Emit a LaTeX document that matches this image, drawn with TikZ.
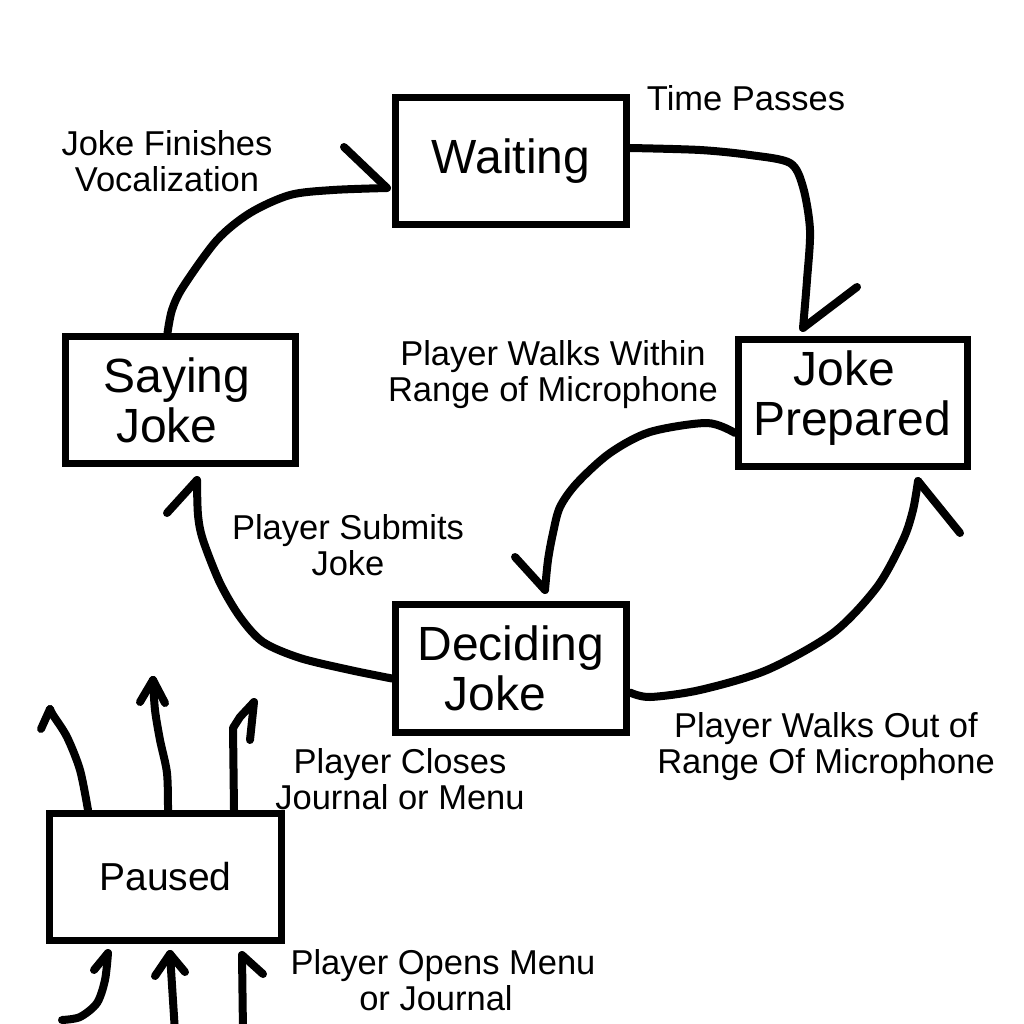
\documentclass[tikz,border=0pt]{standalone}
\usepackage{fontspec}
\setmainfont{Liberation Sans}
\usetikzlibrary{calc}
\begin{document}
\begin{tikzpicture}[x=1pt,y=-1pt,
 state/.style={draw,line width=7pt,inner sep=0pt,align=center,font=\fontsize{48}{50}\selectfont},
 lbl/.style={align=center,font=\fontsize{34.5}{36}\selectfont,inner sep=0pt},
 conn/.style={line width=8pt,line cap=round,line join=round},
]
\useasboundingbox[fill=white] (0,0) rectangle (1024,1024);

% states
\node[state,minimum width=231pt,minimum height=127pt] (waiting) at (511,161) {Waiting};
\node[state,minimum width=229pt,minimum height=127pt,text depth=20pt] (prepared) at (853,403) {\hspace*{-18pt}Joke\\\hspace*{-2pt}Prepared};
\node[state,minimum width=230pt,minimum height=127pt] (saying) at (180.5,400) {\hspace*{-7pt}Saying\\\hspace*{-27pt}Joke};
\node[state,minimum width=231pt,minimum height=128pt] (deciding) at (511,668.5) {Deciding\\\hspace*{-32pt}Joke};
\node[state,minimum width=232pt,minimum height=127pt,font=\fontsize{39}{40}\selectfont] (paused) at (165.5,877) {Paused};

% labels
\node[lbl] (lt) at (746,98) {Time Passes};
\node[lbl] (lf) at (167,161) {Joke Finishes\\Vocalization};
\node[lbl] (lw) at (553,375) {Player Walks Within\\Range of Microphone};
\node[lbl] (ls) at (348,545) {Player Submits\\Joke};
\node[lbl] (lo) at (826,747) {Player Walks Out of\\Range Of Microphone};
\node[lbl] (lc) at (400,779) {Player Closes\\Journal or Menu};
\node[lbl] (lp) at (443,980) {Player Opens Menu\\\hspace*{-14pt}or Journal};

% connection points
\coordinate (a1) at ($(waiting.east)+(0,-13)$);
\coordinate (b1) at ($(prepared.north)+(-50,-8)$);
\coordinate (a2) at ($(prepared.west)+(0,30)$);
\coordinate (b2) at ($(deciding.north)+(34,-11)$);
\coordinate (a3) at ($(deciding.east)+(0,24)$);
\coordinate (b3) at ($(prepared.south)+(65,11)$);
\coordinate (a4) at ($(deciding.west)+(0,10)$);
\coordinate (b4) at ($(saying.south)+(16.5,13)$);
\coordinate (a5) at ($(saying.north)+(-13,0)$);
\coordinate (b5) at ($(waiting.west)+(-5,27)$);

% Waiting -> Joke Prepared
\draw[conn] plot[smooth,tension=0.5] coordinates {(a1) (700,150) (750,155) (790,163) (803,187) (810,230) (807,280) (b1)};
\draw[conn] (b1) -- ++(54,-41);
% Joke Prepared -> Deciding Joke
\draw[conn] plot[smooth,tension=0.5] coordinates {(a2) (707,423) (650,432) (610,453) (577,483) (560,507) (553,533) (548,560) (b2)};
\draw[conn] (b2) -- ++(-30,-33);
% Deciding Joke -> Joke Prepared
\draw[conn] plot[smooth,tension=0.5] coordinates {(a3) (650,697) (700,690) (767,670) (833,633) (877,587) (903,540) (913,510) (b3)};
\draw[conn] (b3) -- ++(42,52);
% Deciding Joke -> Saying Joke
\draw[conn] plot[smooth,tension=0.5] coordinates {(a4) (350,670) (300,658) (263,642) (240,617) (220,583) (203,540) (198,515) (b4)};
\draw[conn] (b4) -- ++(-30,33);
% Saying Joke -> Waiting
\draw[conn] plot[smooth,tension=0.5] coordinates {(a5) (172,310) (183,287) (217,240) (250,213) (290,195) (333,190) (b5)};
\draw[conn] (b5) -- ++(-43,-41);

% Paused outgoing
\coordinate (s1) at ($(paused.north)+(-77.5,0)$);
\coordinate (s2) at ($(paused.north)+(2.5,0)$);
\coordinate (s3) at ($(paused.north)+(68.5,0)$);
\coordinate (e1) at (50,709);
\coordinate (e2) at (153,680);
\coordinate (e3) at (254,702);
\draw[conn] plot[smooth,tension=0.5] coordinates {(s1) (80,770) (67,737) (53,715) (e1)};
\draw[conn] (e1) -- ++(-9,20);
\draw[conn] plot[smooth,tension=0.5] coordinates {(s2) (167,773) (160,740) (155,710) (e2)};
\draw[conn] (e2) -- ++(-13,22);
\draw[conn] (e2) -- ++(12,23);
\draw[conn] (s3) -- (233,728) -- (240,717) -- (e3);
\draw[conn] (e3) -- ++(-4,38);

% Paused incoming
\coordinate (t1) at ($(paused.south)+(-57.5,9)$);
\coordinate (t2) at ($(paused.south)+(4.5,10)$);
\coordinate (t3) at ($(paused.south)+(76.5,11)$);
\coordinate (f1) at (62,1020);
\coordinate (f2) at (175,1032);
\coordinate (f3) at (243,1032);
\draw[conn] plot[smooth,tension=0.5] coordinates {(f1) (80,1017) (97,1003) (105,980) (t1)};
\draw[conn] (t1) -- ++(-14,17);
\draw[conn] plot[smooth,tension=0.5] coordinates {(f2) (172,985) (t2)};
\draw[conn] (t2) -- ++(-15,22);
\draw[conn] (t2) -- ++(15,18);
\draw[conn] (f3) -- (t3);
\draw[conn] (t3) -- ++(21,19);
\end{tikzpicture}
\end{document}
